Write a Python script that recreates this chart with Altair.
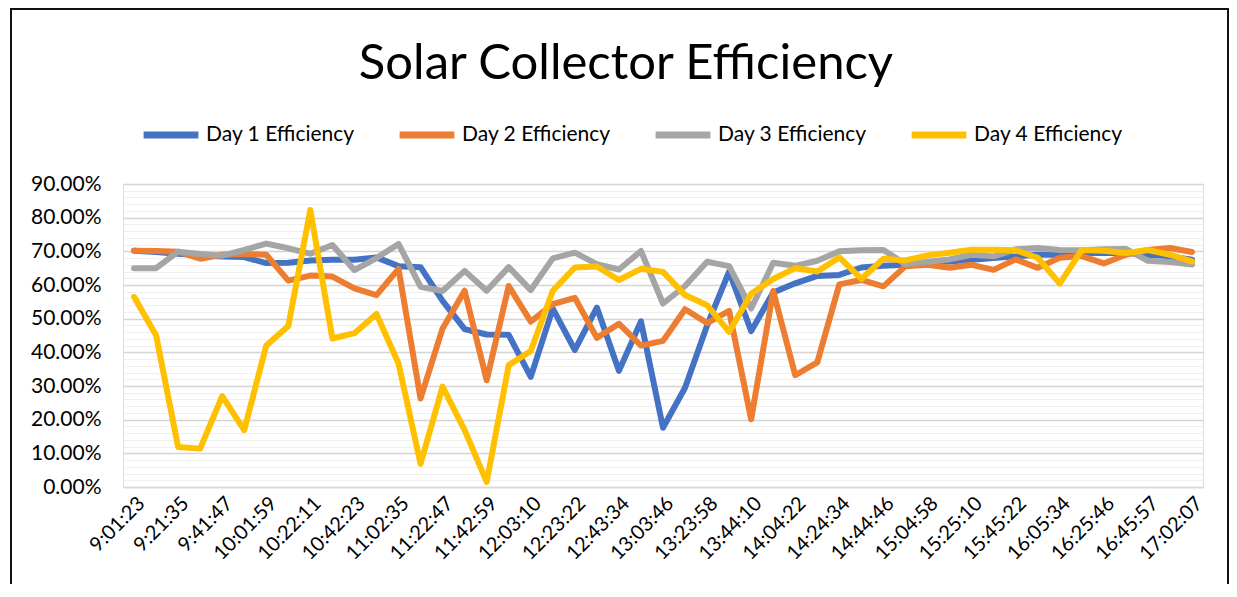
import altair as alt
import pandas as pd

times = [
    "9:01:23", "9:11:29", "9:21:35", "9:31:41", "9:41:47", "9:51:53",
    "10:01:59", "10:12:05", "10:22:11", "10:32:17", "10:42:23", "10:52:29",
    "11:02:35", "11:12:41", "11:22:47", "11:32:53", "11:42:59", "11:53:05",
    "12:03:10", "12:13:16", "12:23:22", "12:33:28", "12:43:34", "12:53:40",
    "13:03:46", "13:13:52", "13:23:58", "13:34:04", "13:44:10", "13:54:16",
    "14:04:22", "14:14:28", "14:24:34", "14:34:40", "14:44:46", "14:54:52",
    "15:04:58", "15:15:04", "15:25:10", "15:35:16", "15:45:22", "15:55:28",
    "16:05:34", "16:15:40", "16:25:46", "16:35:52", "16:45:57", "16:54:02",
    "17:02:07",
]

day1 = [70.2, 69.8, 69.3, 68.8, 68.5, 68.3, 66.5, 66.6, 67.3, 67.5, 67.5, 68.2,
        65.6, 65.3, 55.3, 46.9, 45.3, 45.2, 32.7, 53.0, 40.7, 53.3, 34.5, 49.2,
        17.6, 29.5, 48.0, 64.0, 46.3, 57.8, 60.5, 62.7, 63.0, 65.2, 65.7, 66.0,
        66.5, 67.0, 67.5, 68.0, 68.5, 69.0, 69.0, 69.5, 69.5, 69.5, 69.0, 68.5,
        67.5]
day2 = [70.2, 70.1, 69.9, 67.8, 69.0, 69.2, 69.0, 61.3, 62.8, 62.5, 59.0, 57.0,
        64.8, 26.3, 47.1, 58.3, 31.7, 59.7, 49.1, 54.3, 56.2, 44.3, 48.5, 42.0,
        43.4, 52.8, 48.7, 52.3, 20.1, 58.2, 33.2, 37.0, 60.2, 61.5, 59.6, 65.6,
        66.0, 65.1, 66.0, 64.5, 67.6, 65.1, 68.1, 68.6, 66.4, 69.0, 70.4, 71.0,
        69.8]
day3 = [65.0, 65.0, 69.9, 69.2, 68.7, 70.4, 72.3, 70.9, 69.3, 71.9, 64.4, 68.0,
        72.2, 59.5, 58.2, 64.2, 58.3, 65.3, 58.5, 67.9, 69.6, 66.2, 64.6, 70.1,
        54.5, 59.7, 66.9, 65.6, 53.0, 66.6, 65.7, 67.2, 70.0, 70.3, 70.4, 66.2,
        66.9, 67.6, 69.0, 68.5, 70.6, 71.0, 70.4, 70.3, 70.6, 70.7, 67.2, 66.8,
        66.1]
day4 = [56.5, 45.1, 11.9, 11.4, 27.0, 16.9, 42.0, 47.8, 82.3, 44.1, 45.7, 51.4,
        36.7, 6.9, 29.8, 16.9, 1.5, 36.2, 40.4, 58.3, 65.2, 65.5, 61.5, 64.8,
        63.9, 57.0, 54.0, 46.1, 57.4, 61.8, 65.0, 64.0, 68.2, 61.8, 67.8, 67.3,
        68.8, 69.6, 70.5, 70.5, 70.3, 68.1, 60.4, 70.4, 70.2, 69.5, 70.4, 69.0,
        67.0]

names = ["Day 1 Efficiency", "Day 2 Efficiency", "Day 3 Efficiency", "Day 4 Efficiency"]
colors = ["#4472C4", "#ED7D31", "#A5A5A5", "#FFC000"]
series = [day1, day2, day3, day4]
title_text = ["Solar Collector Efficiency"]

rows = []
for n, vals in zip(names, series):
    for t, v in zip(times, vals):
        rows.append({"time": t, "eff": v / 100.0, "series": n})
df = pd.DataFrame(rows)

FONT = "Lato"
major_test = "round(datum.value*100) % 10 == 0"
y_values = [round(i * 0.02, 2) for i in range(46)]

base = alt.Chart(df).mark_line(strokeWidth=6, strokeJoin="round", strokeCap="round").encode(
    x=alt.X(
        "time:O",
        sort=times,
        title=None,
        scale=alt.Scale(type="point", padding=0.5),
        axis=alt.Axis(
            values=times[::2],
            labelAngle=-45,
            labelFont=FONT,
            labelFontSize=20,
            labelColor="#000000",
            labelOverlap=False,
            labelPadding=6,
            ticks=False,
            domain=True,
            domainColor="#d9d9d9",
            domainWidth=1.5,
            grid=False,
        ),
    ),
    y=alt.Y(
        "eff:Q",
        title=None,
        scale=alt.Scale(domain=[0, 0.9], nice=False, zero=True),
        axis=alt.Axis(
            values=y_values,
            labelExpr=f"{major_test} ? format(datum.value, '.2%') : ''",
            labelFont=FONT,
            labelFontSize=21,
            labelColor="#000000",
            labelPadding=22,
            ticks=False,
            domain=False,
            grid=True,
            gridColor={"condition": {"test": major_test, "value": "#d4d4d4"}, "value": "#efefef"},
            gridWidth={"condition": {"test": major_test, "value": 1.5}, "value": 1.2},
        ),
    ),
    color=alt.Color(
        "series:N",
        scale=alt.Scale(domain=names, range=colors),
        legend=alt.Legend(
            orient="none",
            legendX=17,
            legendY=-80,
            direction="horizontal",
            title=None,
            symbolType="stroke",
            symbolSize=3000,
            symbolStrokeWidth=7,
            labelFont=FONT,
            labelFontSize=21,
            labelColor="#000000",
            labelOffset=4,
            columnPadding=30,
            padding=0,
        ),
    ),
)

layers = [base.transform_filter(alt.datum.series == n) for n in names]

border = alt.Chart(pd.DataFrame({"k": [0]})).mark_rect(
    filled=False, stroke="#111111", strokeWidth=2
).encode(
    x=alt.value(-112), x2=alt.value(1105), y=alt.value(-175), y2=alt.value(420)
)

title = alt.Chart(pd.DataFrame({"t": title_text})).mark_text(
    font=FONT, fontSize=49, color="#000000", align="center", baseline="alphabetic"
).encode(text="t:N", x=alt.value(503), y=alt.value(-105))

chart = alt.layer(border, title, *layers).properties(
    width=1080,
    height=303,
    autosize=alt.AutoSizeParams(type="none"),
    padding={"left": 115, "top": 176, "right": 26, "bottom": 97},
).configure_view(stroke=None).configure(background="white")

chart.save("out.html", embed_options={"renderer": "svg", "actions": False})
